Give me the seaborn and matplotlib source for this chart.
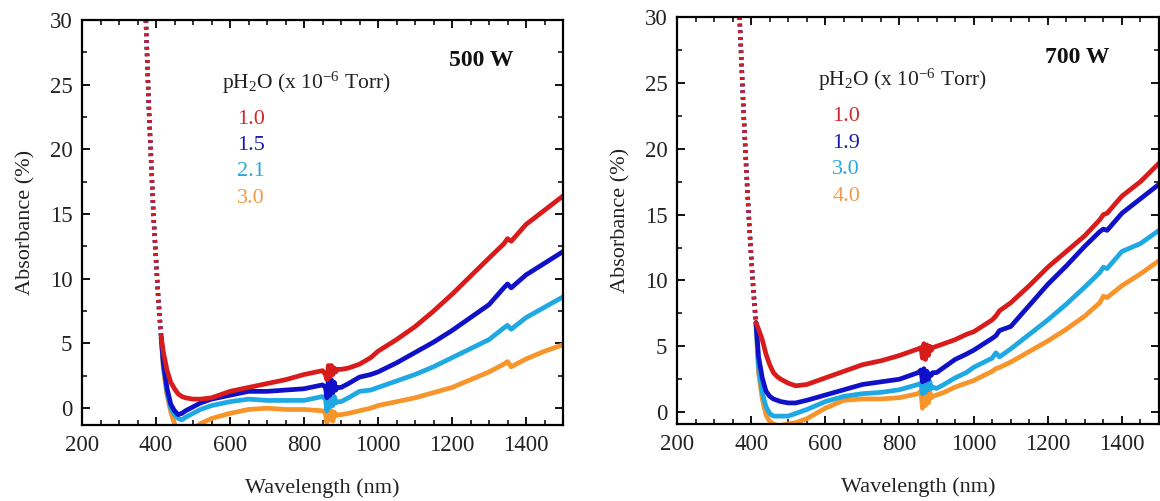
import numpy as np
import pandas as pd
import matplotlib
matplotlib.use("Agg")
import matplotlib.pyplot as plt
from matplotlib.ticker import MultipleLocator
import seaborn as sns

# ---------------- data ----------------
# steep UV edge shared by all films (drawn dotted)
edge_wl_500 = [372, 375, 378, 381, 384, 387, 390, 393, 396, 399, 402, 405, 408, 411, 414]
edge_ab_500 = [30.5, 28.0, 25.5, 23.0, 21.0, 19.0, 17.0, 15.0, 13.5, 12.0, 10.5, 9.0, 7.8, 6.6, 5.5]

edge_wl_700 = [368, 371, 374, 377, 380, 383, 386, 389, 392, 395, 398, 401, 404, 407, 410, 413]
edge_ab_700 = [30.5, 28.5, 26.5, 24.5, 22.5, 20.8, 19.0, 17.3, 15.7, 14.2, 12.8, 11.4, 10.1, 8.9, 7.8, 6.8]

# 500 W panel
wl_500 = [414, 420, 430, 440, 450, 460, 470, 480, 500, 520, 550, 600, 650, 700, 750, 800,
          850, 858, 862, 866, 870, 874, 878, 882, 886, 890, 900, 920, 950, 980, 1000,
          1050, 1100, 1150, 1200, 1250, 1300, 1340, 1350, 1360, 1400, 1450, 1500]
ab_500_10 = [5.5, 4.3, 2.9, 2.0, 1.5, 1.1, 0.9, 0.8, 0.7, 0.7, 0.8, 1.3, 1.6, 1.9, 2.2, 2.6,
             2.9, 2.6, 2.2, 3.3, 2.4, 3.3, 2.6, 3.1, 2.8, 3.0, 3.0, 3.1, 3.4, 3.9, 4.4,
             5.3, 6.3, 7.5, 8.8, 10.2, 11.6, 12.7, 13.1, 12.9, 14.2, 15.3, 16.4]
ab_500_15 = [5.5, 3.5, 1.5, 0.3, -0.2, -0.5, -0.4, -0.2, 0.1, 0.4, 0.7, 1.0, 1.3, 1.3, 1.4, 1.5,
             1.8, 1.6, 0.8, 2.4, 1.0, 2.2, 1.2, 2.0, 1.4, 1.6, 1.6, 1.9, 2.4, 2.6, 2.8,
             3.5, 4.3, 5.1, 6.0, 7.0, 8.0, 9.3, 9.6, 9.3, 10.3, 11.2, 12.1]
ab_500_21 = [5.5, 3.3, 1.2, 0.0, -0.5, -0.8, -0.9, -0.7, -0.4, -0.1, 0.2, 0.5, 0.7, 0.6, 0.6, 0.6,
             0.9, 0.7, -0.2, 1.2, 0.1, 1.0, 0.2, 0.9, 0.4, 0.5, 0.5, 0.8, 1.3, 1.4, 1.6,
             2.1, 2.6, 3.2, 3.9, 4.6, 5.3, 6.2, 6.4, 6.1, 7.0, 7.8, 8.6]
ab_500_30 = [5.5, 3.0, 1.0, -0.3, -1.2, -1.9, -2.4, -2.6, -1.6, -1.2, -0.8, -0.4, -0.1, 0.0, -0.1, -0.1,
             -0.2, -0.4, -1.1, -0.1, -0.9, -0.2, -1.0, -0.3, -0.6, -0.5, -0.5, -0.4, -0.2, 0.0, 0.2,
             0.5, 0.8, 1.2, 1.6, 2.2, 2.8, 3.4, 3.6, 3.2, 3.8, 4.4, 4.9]

# 700 W panel
wl_700 = [413, 420, 430, 440, 450, 460, 470, 480, 500, 520, 550, 600, 650, 700, 750, 800,
          850, 858, 862, 866, 870, 874, 878, 882, 886, 890, 900, 920, 950, 980, 1000,
          1050, 1060, 1070, 1100, 1150, 1200, 1250, 1300, 1340, 1350, 1360, 1400, 1450, 1500]
ab_700_10 = [6.8, 6.3, 5.5, 4.4, 3.6, 3.0, 2.7, 2.5, 2.2, 2.0, 2.1, 2.6, 3.1, 3.6, 3.9, 4.3,
             4.8, 4.9, 4.1, 5.2, 4.0, 5.1, 4.3, 5.0, 4.7, 4.9, 5.0, 5.2, 5.5, 5.9, 6.1,
             7.0, 7.3, 7.7, 8.3, 9.6, 11.0, 12.2, 13.4, 14.6, 15.0, 15.1, 16.4, 17.5, 18.9]
ab_700_19 = [6.8, 4.2, 2.6, 1.6, 1.2, 1.0, 0.9, 0.8, 0.7, 0.7, 0.9, 1.3, 1.7, 2.1, 2.3, 2.5,
             3.0, 3.2, 2.3, 3.3, 2.4, 3.1, 2.5, 2.9, 2.8, 3.0, 3.0, 3.4, 4.0, 4.4, 4.7,
             5.6, 5.8, 6.2, 6.5, 8.1, 9.7, 11.1, 12.6, 13.7, 13.9, 13.8, 15.1, 16.2, 17.3]
ab_700_30 = [6.8, 3.4, 1.5, 0.4, -0.1, -0.3, -0.3, -0.3, -0.3, -0.1, 0.2, 0.8, 1.2, 1.4, 1.5, 1.7,
             2.1, 2.2, 1.4, 2.7, 1.5, 2.4, 1.7, 2.3, 1.8, 1.9, 1.8, 2.1, 2.6, 3.0, 3.4,
             4.1, 4.5, 4.2, 4.8, 5.9, 7.0, 8.2, 9.5, 10.6, 11.0, 10.9, 12.2, 12.8, 13.8]
ab_700_40 = [6.8, 3.0, 1.0, -0.2, -0.7, -0.9, -1.0, -1.0, -0.9, -0.8, -0.5, 0.3, 0.9, 1.0, 1.0, 1.1,
             1.4, 1.6, 0.3, 2.2, 0.5, 1.8, 0.7, 1.5, 1.1, 1.2, 1.3, 1.5, 1.9, 2.2, 2.4,
             3.1, 3.3, 3.4, 3.8, 4.6, 5.4, 6.3, 7.3, 8.3, 8.8, 8.7, 9.6, 10.5, 11.5]

labels_500 = ["1.0", "1.5", "2.1", "3.0"]
labels_700 = ["1.0", "1.9", "3.0", "4.0"]
powers = ["500 W", "700 W"]

line_colors = ["#d81b1b", "#1010c8", "#1ea9e3", "#f7942a"]
text_colors = ["#d22a2a", "#1e1ea8", "#2aa8dc", "#f39a45"]

# ---------------- build tidy frames ----------------
def tidy(wl, series, labels):
    rows = []
    for lab, ys in zip(labels, series):
        for x, y in zip(wl, ys):
            rows.append((lab, x, y))
    return pd.DataFrame(rows, columns=["p", "wl", "ab"])

def edge(wl, ab, labels):
    rows = []
    for lab in labels:
        for x, y in zip(wl, ab):
            rows.append((lab, x, y))
    return pd.DataFrame(rows, columns=["p", "wl", "ab"])

panels = [
    dict(main=tidy(wl_500, [ab_500_10, ab_500_15, ab_500_21, ab_500_30], labels_500),
         edge=edge(edge_wl_500, edge_ab_500, labels_500), labels=labels_500,
         title=powers[0], ylim=(-1.3, 30),
         pos=[82 / 1160, 76 / 501, 481 / 1160, 405 / 501]),
    dict(main=tidy(wl_700, [ab_700_10, ab_700_19, ab_700_30, ab_700_40], labels_700),
         edge=edge(edge_wl_700, edge_ab_700, labels_700), labels=labels_700,
         title=powers[1], ylim=(-0.9, 30),
         pos=[677 / 1160, 77 / 501, 482 / 1160, 407 / 501]),
]

# ---------------- plotting ----------------
sns.set_theme(style="white")
plt.rcParams["font.family"] = ["Liberation Serif", "DejaVu Serif"]
plt.rcParams["mathtext.fontset"] = "custom"
plt.rcParams["mathtext.rm"] = "Liberation Serif"
plt.rcParams["mathtext.it"] = "Liberation Serif:italic"

fig = plt.figure(figsize=(11.6, 5.01), dpi=100)

for P in panels:
    ax = fig.add_axes(P["pos"])
    pal = dict(zip(P["labels"], line_colors))
    # dotted steep edge, drawn in reverse order so red ends on top
    for lab in P["labels"][::-1]:
        sub = P["edge"][P["edge"]["p"] == lab]
        sns.lineplot(data=sub, x="wl", y="ab", color=pal[lab], ax=ax,
                     linewidth=3.2, linestyle=(0, (0.6, 0.9)), estimator=None,
                     sort=False, legend=False)
    for lab in P["labels"][::-1]:
        sub = P["main"][P["main"]["p"] == lab]
        sns.lineplot(data=sub, x="wl", y="ab", color=pal[lab], ax=ax,
                     linewidth=3.4, estimator=None, sort=False, legend=False)

    ax.set_xlim(200, 1500)
    ax.set_ylim(*P["ylim"])
    ax.xaxis.set_major_locator(MultipleLocator(200))
    ax.xaxis.set_minor_locator(MultipleLocator(50))
    ax.yaxis.set_major_locator(MultipleLocator(5))
    ax.yaxis.set_minor_locator(MultipleLocator(2.5))
    ax.tick_params(which="both", direction="in", top=True, right=True,
                   bottom=True, left=True, color="black")
    ax.tick_params(which="major", length=6, width=1.3, labelsize=16.5, pad=7)
    ax.tick_params(which="minor", length=3.5, width=1.1)
    for s in ax.spines.values():
        s.set_linewidth(1.6)
        s.set_color("black")
    ax.set_xlabel("Wavelength (nm)", fontsize=16, labelpad=16, color="#222222")
    ax.set_ylabel("Absorbance (%)", fontsize=16, labelpad=10, color="#222222")
    for t in ax.get_xticklabels() + ax.get_yticklabels():
        t.set_color("#222222")

    ax.text(0.83, 0.90, P["title"], transform=ax.transAxes, fontsize=17,
            fontweight="bold", ha="center", va="center", color="#111111")
    ax.text(0.292, 0.845, r"pH$_{\mathregular{2}}$O (x 10$^{\mathregular{-6}}$ Torr)",
            transform=ax.transAxes, fontsize=15.5, ha="left", va="center",
            color="#222222")
    ys = [0.755, 0.689, 0.625, 0.560]
    for lab, c, yy in zip(P["labels"], text_colors, ys):
        ax.text(0.322, yy, lab, transform=ax.transAxes, fontsize=16,
                ha="left", va="center", color=c)

fig.savefig("out.png", dpi=100)
